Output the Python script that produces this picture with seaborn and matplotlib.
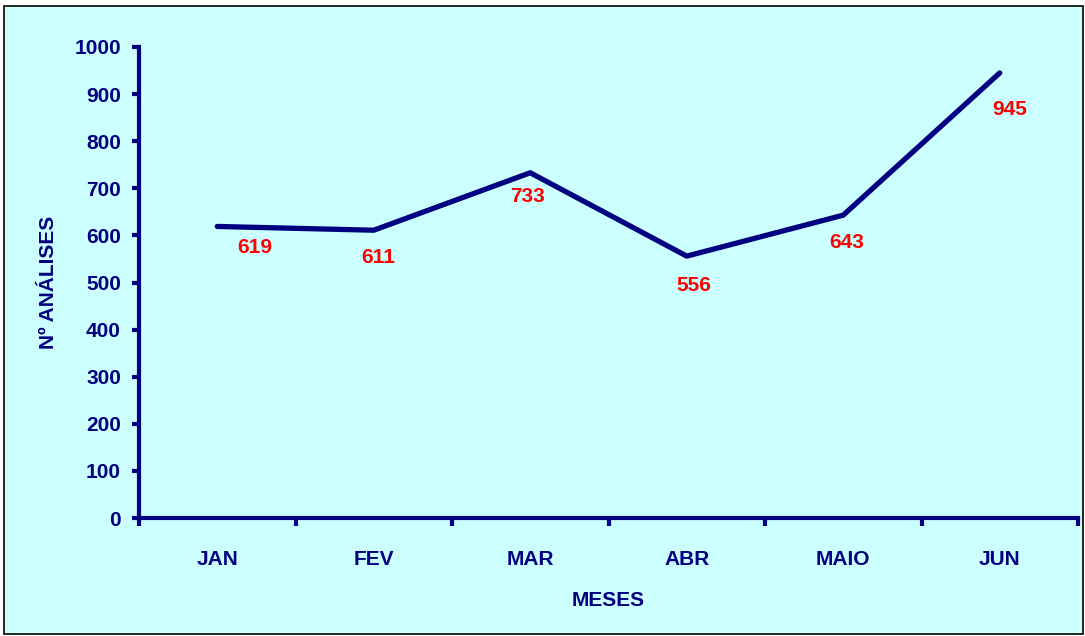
import matplotlib
matplotlib.use("Agg")
import matplotlib.pyplot as plt
import matplotlib.patches as mpatches
import seaborn as sns
import pandas as pd

months = ["JAN", "FEV", "MAR", "ABR", "MAIO", "JUN"]
analyses = [619, 611, 733, 556, 643, 945]
y_ticks = [0, 100, 200, 300, 400, 500, 600, 700, 800, 900, 1000]

# label offsets in pixels (dx, dy downward)
label_offsets = [(38, 21), (4, 27), (-3, 24), (7, 29), (3, 27), (10, 37)]

sns.set_theme(style="white")
plt.rcParams['font.family'] = ['Liberation Sans', 'DejaVu Sans']

navy = "#000080"
bg = "#CCFFFF"
fs = 15
W, H = 1085, 636
fig = plt.figure(figsize=(W / 100, H / 100), dpi=100)
fig.patch.set_facecolor("white")
fig.patches.append(mpatches.Rectangle((4 / W, 1 - 634 / H), (1083 - 4) / W, (634 - 6) / H,
                                      transform=fig.transFigure, facecolor=bg,
                                      edgecolor="black", linewidth=1.2, zorder=-5))

ax = fig.add_axes([139 / W, 1 - 518 / H, (1078 - 139) / W, (518 - 47) / H])
ax.set_facecolor("none")

df = pd.DataFrame({"mes": months, "n": analyses})
df["x"] = range(len(months))
sns.lineplot(data=df, x="x", y="n", ax=ax, color=navy, linewidth=3.8, sort=False)

ax.set_xlim(-0.5, len(months) - 0.5)
ax.set_ylim(0, 1000)
ax.set_yticks(y_ticks)
ax.set_yticklabels([str(v) for v in y_ticks], fontsize=fs, fontweight="bold", color=navy)
ax.set_xticks(range(len(months)))
ax.set_xticklabels(months, fontsize=fs, fontweight="bold", color=navy)
ax.set_xticks([i - 0.5 for i in range(len(months) + 1)], minor=True)
ax.tick_params(axis="x", which="major", bottom=True, length=0, pad=23)
ax.tick_params(axis="x", which="minor", bottom=True, length=6, width=3, color=navy, direction="out")
ax.tick_params(axis="y", which="major", left=True, length=5, width=3, color=navy, direction="out", pad=8)

for s in ["top", "right"]:
    ax.spines[s].set_visible(False)
for s in ["left", "bottom"]:
    ax.spines[s].set_color(navy)
    ax.spines[s].set_linewidth(3)

ax.set_xlabel("MESES", fontsize=fs, fontweight="bold", color=navy, labelpad=16)
ax.set_ylabel("Nº ANÁLISES", fontsize=fs, fontweight="bold", color=navy, labelpad=12)

for i, v in enumerate(analyses):
    dx, dy = label_offsets[i]
    ax.annotate(str(v), (i, v), xytext=(dx * 0.72, -dy * 0.72), textcoords="offset points",
                ha="center", va="center", color="#FF0000", fontsize=fs, fontweight="bold")

fig.savefig("out.png", dpi=100, facecolor=fig.get_facecolor())
